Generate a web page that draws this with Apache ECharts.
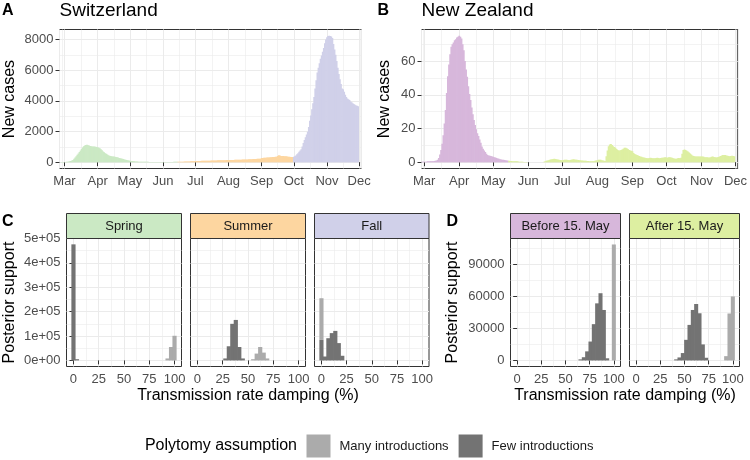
<!DOCTYPE html>
<html><head><meta charset="utf-8">
<script src="https://cdn.jsdelivr.net/npm/echarts@6/dist/echarts.min.js"></script>
<style>html,body{margin:0;padding:0;background:#fff}#c{width:750px;height:460px}</style>
</head><body><div id="c"></div>
<script>
// ---------------- DATA ----------------
// Switzerland daily new cases, split by season
const chSpringStart = '2020-02-26';
const chSpring = [2,4,6,9,
 12,16,22,30,42,58,80,110,150,230,310,390,480,570,670,760,860,960,1040,1090,1120,1130,1110,1080,1050,1040,1030,1025,1020,1010,990,
 970,940,910,850,770,700,640,590,550,500,460,420,400,385,375,365,350,335,315,300,280,260,240,220,200,180,160,140,120,105,
 95,85,75,66,58,50,44,39,35,32,30,28,26,25,24,23,22,21,20,20,19,18,18,17,17,16,16,16,15,15,15,
 15,16,16,17,17,18,18,19,20,20,21,22,23,24];
const chSummerStart = '2020-06-15';
const chSummer = [25,26,28,30,32,34,37,40,43,46,49,52,55,58,62,66,
 70,75,78,80,84,85,88,92,95,96,98,100,101,99,100,103,106,108,110,112,114,118,121,123,125,126,128,131,134,136,138,
 140,142,143,145,148,150,152,155,157,158,160,163,165,168,170,172,174,178,182,186,190,195,198,200,204,208,212,216,220,225,230,
 275,280,285,290,295,300,305,310,318,325,330,338,345,352,360,400,460,430,410,400,395,390,385,380,370,360,350,345,340,345];
const chFallStart = '2020-10-01';
const chFall = [350,380,440,510,590,680,760,850,1030,1250,1450,1620,1800,1980,2300,2700,3050,3450,3850,4250,4800,5350,5850,6150,6450,6750,6950,7200,7450,7750,8000,
 8150,8230,8240,8220,8200,8100,7700,7350,7000,6600,6150,5750,5400,5100,4800,4750,4600,4400,4250,4150,4100,4050,3950,3900,3850,3800,3750,3700,3680,3650];

// New Zealand daily new cases, before / after 15 May
const nzBeforeStart = '2020-02-28';
const nzBefore = [0.3,0.3,
 0.3,0.3,0.3,0.5,0.5,0.5,0.5,0.5,0.6,0.7,0.8,1.0,1.4,2.5,4.5,7.3,11,16,23,31,41,51,58,64,68.5,70,71,72.4,73,74,74.4,
 75,74.5,73.4,70,66.5,60,55,50.7,45,40.5,36.9,32.5,28.5,25,22,19.5,17.2,15.5,13.5,11.5,9.3,8,7,6,5,4.3,4,3.8,3.6,3.4,
 3.2,3,2.8,2.5,2.2,2,1.8,1.6,1.5,1.4,1.3,1.1,1.0,0.9];
const nzAfterStart = '2020-05-15';
const nzAfter = [0.8,0.7,0.7,0.6,0.6,0.5,0.5,0.5,0.4,0.3,0.3,0.2,0.2,0.1,0.1,0.1,0.1,
 0,0,0,0,0,0,0,0,0,0,0,0,0,0,0.2,0.5,0.8,1,1.2,1.4,1.6,1.8,1.9,2,1.9,1.8,1.6,1.4,1.3,1.2,
 1.2,1.3,1.4,1.5,1.4,1.3,1.2,1.3,1.5,1.6,1.7,1.6,1.5,1.4,1.3,1.2,1.1,1.0,1.0,0.9,0.8,0.8,0.7,0.7,0.6,0.6,0.5,0.5,0.6,0.8,1.0,
 1.2,1.4,1.5,1.4,1.2,1.0,0.8,0.7,3.5,7,9.5,10.5,10.8,10.2,9.5,9,8.5,7.8,7.3,7,6.9,7.2,7.5,8,8.5,8.6,8.3,7.8,7.3,7.0,6.8,
 6.5,5.5,4.9,4.5,4.2,3.9,3.6,3.4,3.2,3.0,2.8,2.6,2.5,2.4,2.4,2.5,2.6,2.5,2.4,2.3,2.4,2.5,2.6,2.5,2.4,2.5,2.6,2.7,2.8,2.9,
 2.8,2.7,2.9,3.0,2.8,2.6,2.4,2.2,2.0,2.1,2.3,2.5,2.4,2.6,5.0,7.3,7.6,7.2,6.8,6.3,5.8,5.2,4.6,4.0,3.7,3.5,3.4,3.4,3.3,3.4,3.4,
 3.4,3.3,3.2,3.0,3.0,2.9,2.8,2.8,3.0,3.2,3.3,3.1,2.9,2.8,2.9,3.1,3.4,3.7,4.0,4.2,4.3,4.2,4.0,3.8,3.6,3.5,3.6,3.8,3.7,3.5];

const monthTicks = ['2020-03-01','2020-04-01','2020-05-01','2020-06-01','2020-07-01','2020-08-01','2020-09-01','2020-10-01','2020-11-01','2020-12-01'];
const monthLabels = ['Mar','Apr','May','Jun','Jul','Aug','Sep','Oct','Nov','Dec'];

// Histograms of transmission rate damping (%)
const binCenters = [0,3.45,6.9,10.34,13.79,17.24,20.69,24.14,27.59,31.03,34.48,37.93,41.38,44.83,48.28,51.72,55.17,58.62,62.07,65.52,68.97,72.41,75.86,79.31,82.76,86.21,89.66,93.1,96.55,100];
const binWidth = 3.45;
const springFew  = [476000,5000,0,0,0,0,0,0,0,0, 0,0,0,0,0,0,0,0,0,0, 0,0,0,0,0,0,0,0,0,0];
const springMany = [0,0,0,0,0,0,0,0,0,0, 0,0,0,0,0,0,0,0,0,0, 0,0,0,0,0,0,0,8000,55000,101000];
const summerFew  = [0,0,0,0,0,0,0,0,8000,58000, 150000,166000,55000,8000,0,0,0,0,0,0, 0,0,0,0,0,0,0,0,0,0];
const summerMany = [0,0,0,0,0,0,0,0,0,0, 0,0,0,0,0,0,5000,28000,55000,32000, 8000,0,0,0,0,0,0,0,0,0];
const fallFew    = [84000,16000,91000,112000,121000,71000,19000,0,0,0, 0,0,0,0,0,0,0,0,0,0, 0,0,0,0,0,0,0,0,0,0];
const fallMany   = [171000,0,0,0,0,0,0,0,0,0, 0,0,0,0,0,0,0,0,0,0, 0,0,0,0,0,0,0,0,0,0];
const beforeFew  = [0,0,0,0,0,0,0,0,0,0, 0,0,0,0,0,0,0,0,0,1000, 3000,8500,17700,34000,53500,63000,47300,2000,0,0];
const beforeMany = [0,0,0,0,0,0,0,0,0,0, 0,0,0,0,0,0,0,0,0,0, 0,0,0,0,0,0,0,0,0,108700];
const afterFew   = [0,0,0,0,0,0,0,0,0,0, 0,0,1000,2800,6900,19300,33300,47300,52900,44200, 15000,2500,0,0,0,0,0,0,0,0];
const afterMany  = [0,0,0,0,0,0,0,0,0,0, 0,0,0,0,0,0,0,0,0,0, 0,0,0,0,0,0,0,4000,44000,60000];

const chYTicks = [0,2000,4000,6000,8000];
const nzYTicks = [0,20,40,60];
const cYTicks = [0,100000,200000,300000,400000,500000];
const dYTicks = [0,30000,60000,90000];
const dampTicks = [0,25,50,75,100];

// ---------------- STYLE / LAYOUT ----------------
const DAY = 86400000;
const FONT = '"Liberation Sans", Arial, Helvetica, sans-serif';
const COL = {spring:'#cbe9c4', summer:'#fdd6a0', fall:'#d0d0e9', before:'#d7b7db', after:'#ddefa1',
             many:'#ababab', few:'#737373', border:'#333333', grid:'#ebebeb', tick:'#4d4d4d'};
const G = [
  {left:59.5, top:29.5, width:302, height:139},
  {left:421.5, top:29.5, width:318, height:139},
  {left:66.5, top:238.5, width:115, height:128},
  {left:190.5, top:238.5, width:115, height:128},
  {left:314.5, top:238.5, width:114.5, height:128},
  {left:510.5, top:238.5, width:110, height:128},
  {left:629.5, top:238.5, width:110, height:128}
];
const OVERLAP = 0.35; // px added on each side so adjacent bars join without seams
const monthTs = monthTicks.map(s => Date.parse(s));
const tMar = monthTs[0], tDec = monthTs[monthTs.length-1];

function daily(start, vals){ const t0 = Date.parse(start); return vals.map((v,i)=>[t0+i*DAY, v]); }

function dayBar(params, api){
  const t = api.value(0), v = api.value(1);
  if (!(v > 0)) return null;
  const a = api.coord([t - DAY/2, 0]), b = api.coord([t + DAY/2, v]);
  return {type:'rect', shape:{x:a[0]-OVERLAP, y:b[1], width:b[0]-a[0]+2*OVERLAP, height:a[1]-b[1]}, style:{fill: api.visual('color')}};
}
function histBar(params, api){
  const c = api.value(0), lo = api.value(1), hi = api.value(2);
  const a = api.coord([c - binWidth/2, lo]), b = api.coord([c + binWidth/2, hi]);
  return {type:'rect', shape:{x:a[0]-OVERLAP, y:b[1], width:b[0]-a[0]+2*OVERLAP, height:a[1]-b[1]}, style:{fill: api.visual('color')}};
}

const gridLine = {show:true, lineStyle:{color:COL.grid, width:1}};
const minorLine = {show:true, lineStyle:{color:COL.grid, width:0.6}};

function valAxis(gi, min, max, step, ticks, fmt, showLab){
  return {type:'value', gridIndex:gi, min:min, max:max, minInterval:step, maxInterval:step, splitNumber:5,
    axisLine:{show:false},
    axisTick:{show:showLab, length:4, lineStyle:{color:COL.border, width:1}, customValues:ticks},
    axisLabel:{show:showLab, customValues:ticks, formatter:fmt, color:COL.tick, fontSize:13, fontFamily:FONT, margin:6},
    splitLine:gridLine, minorTick:{show:false, splitNumber:2}, minorSplitLine:minorLine};
}
function timeAxis(gi, min, max){
  return {type:'time', gridIndex:gi, min:min, max:max, splitNumber:9, minInterval:28*DAY, maxInterval:31*DAY,
    axisLine:{show:false},
    axisTick:{show:true, length:4, lineStyle:{color:COL.border, width:1}},
    axisLabel:{show:true, showMinLabel:false, showMaxLabel:false, color:COL.tick, fontSize:13, fontFamily:FONT, margin:6,
      formatter: v => { const i = monthTs.indexOf(v); return i >= 0 ? monthLabels[i] : ''; }},
    splitLine:gridLine, minorTick:{show:false, splitNumber:2}, minorSplitLine:minorLine};
}
const sci = v => v === 0 ? '0e+00' : Math.round(v/1e5) + 'e+05';
const plain = v => String(v);

const xAxes = [
  timeAxis(0, tMar - 4.66*DAY, tDec + 2.17*DAY),
  timeAxis(1, tMar - 2.34*DAY, tDec + 2.05*DAY),
  valAxis(2, -6.9, 106.9, 25, dampTicks, plain, true),
  valAxis(3, -6.9, 106.9, 25, dampTicks, plain, true),
  valAxis(4, -6.9, 106.9, 25, dampTicks, plain, true),
  valAxis(5, -6.9, 106.9, 25, dampTicks, plain, true),
  valAxis(6, -6.9, 106.9, 25, dampTicks, plain, true)
];
const yAxes = [
  valAxis(0, -412, 8652, 2000, chYTicks, plain, true),
  valAxis(1, -3.75, 78.75, 20, nzYTicks, plain, true),
  valAxis(2, -25000, 500000, 100000, cYTicks, sci, true),
  valAxis(3, -25000, 500000, 100000, cYTicks, sci, false),
  valAxis(4, -25000, 500000, 100000, cYTicks, sci, false),
  valAxis(5, -5700, 114300, 30000, dYTicks, plain, true),
  valAxis(6, -5700, 114300, 30000, dYTicks, plain, false)
];

const series = [];
function daySeries(gi, start, vals, color){
  series.push({type:'custom', xAxisIndex:gi, yAxisIndex:gi, renderItem:dayBar, itemStyle:{color:color},
    encode:{x:0, y:1}, data:daily(start, vals), silent:true, clip:true});
}
daySeries(0, chSpringStart, chSpring, COL.spring);
daySeries(0, chSummerStart, chSummer, COL.summer);
daySeries(0, chFallStart, chFall, COL.fall);
daySeries(1, nzBeforeStart, nzBefore, COL.before);
daySeries(1, nzAfterStart, nzAfter, COL.after);

function histSeries(gi, few, many){
  const dFew = [], dMany = [];
  binCenters.forEach((c,i)=>{
    if (few[i] > 0) dFew.push([c, 0, few[i]]);
    if (many[i] > 0) dMany.push([c, few[i], few[i] + many[i]]);
  });
  series.push({type:'custom', name:'Few introductions', xAxisIndex:gi, yAxisIndex:gi, renderItem:histBar,
    itemStyle:{color:COL.few}, encode:{x:0, y:[1,2]}, data:dFew, silent:true});
  series.push({type:'custom', name:'Many introductions', xAxisIndex:gi, yAxisIndex:gi, renderItem:histBar,
    itemStyle:{color:COL.many}, encode:{x:0, y:[1,2]}, data:dMany, silent:true});
}
histSeries(2, springFew, springMany);
histSeries(3, summerFew, summerMany);
histSeries(4, fallFew, fallMany);
histSeries(5, beforeFew, beforeMany);
histSeries(6, afterFew, afterMany);

// ---------------- TEXT / STRIPS ----------------
const graphic = [];
function txt(x, y, text, font, opts){
  graphic.push(Object.assign({type:'text', x:x, y:y, silent:true,
    style:{text:text, font:font, fill:(opts && opts.fill) || '#000',
      textAlign:(opts && opts.align) || 'left', textVerticalAlign:'middle',
      align:(opts && opts.align) || 'left', verticalAlign:'middle'}},
    (opts && opts.rotation) ? {rotation:opts.rotation} : {}));
}
const stripDefs = [
  {g:2, label:'Spring', fill:COL.spring}, {g:3, label:'Summer', fill:COL.summer}, {g:4, label:'Fall', fill:COL.fall},
  {g:5, label:'Before 15. May', fill:COL.before}, {g:6, label:'After 15. May', fill:COL.after}
];
stripDefs.forEach(s => {
  const g = G[s.g];
  graphic.push({type:'rect', silent:true, z:10, shape:{x:g.left, y:g.top-25, width:g.width, height:25},
    style:{fill:s.fill, stroke:COL.border, lineWidth:1}});
  graphic.push({type:'text', silent:true, z:11, x:g.left + g.width/2, y:g.top-12.5,
    style:{text:s.label, font:'13px ' + FONT, fill:'#1a1a1a', textAlign:'center', textVerticalAlign:'middle', align:'center', verticalAlign:'middle'}});
});
txt(2, 10.5, 'A', 'bold 16px ' + FONT);
txt(59.5, 10.5, 'Switzerland', '19px ' + FONT);
txt(377.5, 10.5, 'B', 'bold 16px ' + FONT);
txt(421.5, 10.5, 'New Zealand', '19px ' + FONT);
txt(2, 221.5, 'C', 'bold 16px ' + FONT);
txt(446.5, 221.5, 'D', 'bold 16px ' + FONT);
txt(9.5, 99, 'New cases', '16px ' + FONT, {align:'center', rotation:Math.PI/2});
txt(385, 99, 'New cases', '16px ' + FONT, {align:'center', rotation:Math.PI/2});
txt(9.5, 302.5, 'Posterior support', '16px ' + FONT, {align:'center', rotation:Math.PI/2});
txt(452.7, 302.5, 'Posterior support', '16px ' + FONT, {align:'center', rotation:Math.PI/2});
txt(248, 396, 'Transmission rate damping (%)', '16px ' + FONT, {align:'center'});
txt(625, 396, 'Transmission rate damping (%)', '16px ' + FONT, {align:'center'});
txt(297, 446, 'Polytomy assumption', '16px ' + FONT, {align:'right'});

const option = {
  animation:false, useUTC:true, backgroundColor:'#ffffff',
  textStyle:{fontFamily:FONT},
  grid: G.map(g => Object.assign({show:true, borderColor:COL.border, borderWidth:1, backgroundColor:'transparent', containLabel:false}, g)),
  xAxis:xAxes, yAxis:yAxes, series:series, graphic:graphic,
  legend:{left:306.5, top:434.5, padding:0, itemWidth:24, itemHeight:23, itemGap:10, icon:'rect', selectedMode:false,
    data:['Many introductions','Few introductions'],
    textStyle:{fontSize:13, color:'#1a1a1a', fontFamily:FONT, padding:[0,0,0,4]}}
};
const chart = echarts.init(document.getElementById('c'), null, {renderer:'canvas'});
chart.setOption(option);
</script></body></html>
